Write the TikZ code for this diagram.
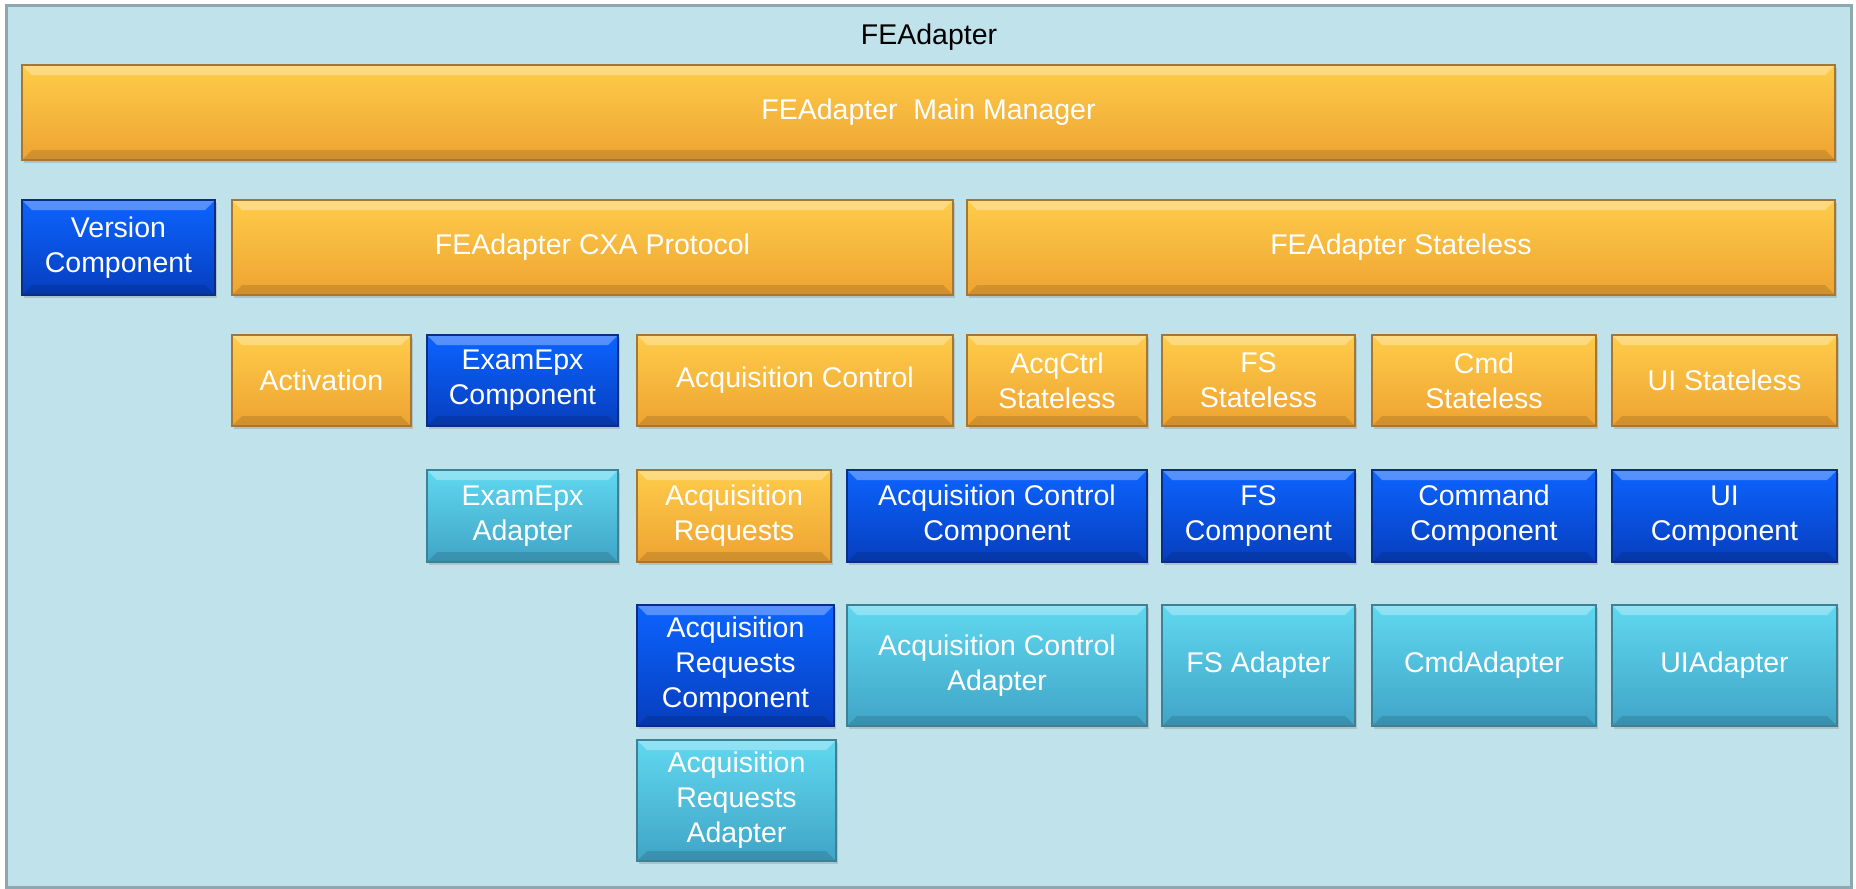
\documentclass[tikz,border=0pt]{standalone}
\usepackage{fontspec}
\setmainfont{Liberation Sans}
\usetikzlibrary{shadows}

\definecolor{panelbg}{RGB}{192,226,234}
\definecolor{panelrim}{RGB}{143,168,176}
\definecolor{orangetop}{RGB}{254,204,74}
\definecolor{orangebot}{RGB}{238,163,50}
\definecolor{orangerim}{RGB}{165,118,52}
\definecolor{bluetop}{RGB}{12,100,255}
\definecolor{bluebot}{RGB}{6,62,190}
\definecolor{bluerim}{RGB}{12,46,130}
\definecolor{cyantop}{RGB}{96,216,240}
\definecolor{cyanbot}{RGB}{64,164,198}
\definecolor{cyanrim}{RGB}{62,128,148}

\tikzset{
  blk/.style={rectangle, anchor=north west, inner sep=0pt, outer sep=0pt,
    align=center, text=white, font=\fontsize{28.5}{35}\selectfont, line width=1.2pt,
    drop shadow={shadow xshift=1.5pt, shadow yshift=-3pt, opacity=0.3},
    path picture={
      \fill[white, opacity=0.3] (path picture bounding box.north west) -- (path picture bounding box.north east)
        -- ([xshift=-10pt,yshift=-10pt]path picture bounding box.north east)
        -- ([xshift=10pt,yshift=-10pt]path picture bounding box.north west) -- cycle;
      \fill[black, opacity=0.12] (path picture bounding box.south west) -- (path picture bounding box.south east)
        -- ([xshift=-10pt,yshift=10pt]path picture bounding box.south east)
        -- ([xshift=10pt,yshift=10pt]path picture bounding box.south west) -- cycle;
    }},
  mgr/.style={blk, top color=orangetop, bottom color=orangebot, draw=orangerim},
  comp/.style={blk, top color=bluetop, bottom color=bluebot, draw=bluerim},
  adp/.style={blk, top color=cyantop, bottom color=cyanbot, draw=cyanrim},
  wh/.style 2 args={minimum width=#1pt, minimum height=#2pt}
}

\begin{document}
\begin{tikzpicture}[x=1pt,y=1pt,yscale=-1]
  \useasboundingbox (0,0) rectangle (1856,889);

  % outer panel
  \draw[panelrim, line width=3pt, fill=panelbg] (6,5) rectangle (1851,887);
  \node[font=\fontsize{28.5}{35}\selectfont] (title) at (929,37) {FEAdapter};

  % row 1
  \node[mgr, wh={1813}{95}] (main) at (22,65) {FEAdapter\ \ Main Manager};

  % row 2
  \node[comp, wh={193}{95}] (version) at (22,200) {Version\\Component};
  \node[mgr, wh={721}{95}] (cxa) at (232,200) {FEAdapter CXA Protocol};
  \node[mgr, wh={868}{95}] (stateless) at (967,200) {FEAdapter Stateless};

  % row 3
  \node[mgr, wh={179}{91}] (activation) at (232,335) {Activation};
  \node[comp, wh={191}{91}] (examcomp) at (427,335) {ExamEpx\\Component};
  \node[mgr, wh={316}{91}] (acqctrl) at (637,335) {Acquisition Control};
  \node[mgr, wh={180}{91}] (acqsl) at (967,335) {AcqCtrl\\Stateless};
  \node[mgr, wh={193}{91}] (fssl) at (1162,335) {FS\\Stateless};
  \node[mgr, wh={224}{91}] (cmdsl) at (1372,335) {Cmd\\Stateless};
  \node[mgr, wh={225}{91}] (uisl) at (1612,335) {UI Stateless};

  % row 4
  \node[adp, wh={191}{92}] (examadp) at (427,470) {ExamEpx\\Adapter};
  \node[mgr, wh={194}{92}] (acqreq) at (637,470) {Acquisition\\Requests};
  \node[comp, wh={300}{92}] (acqctrlcomp) at (847,470) {Acquisition Control\\Component};
  \node[comp, wh={193}{92}] (fscomp) at (1162,470) {FS\\Component};
  \node[comp, wh={224}{92}] (cmdcomp) at (1372,470) {Command\\Component};
  \node[comp, wh={225}{92}] (uicomp) at (1612,470) {UI\\Component};

  % row 5
  \node[comp, wh={197}{121}] (acqreqcomp) at (637,605) {Acquisition\\Requests\\Component};
  \node[adp, wh={300}{121}] (acqctrladp) at (847,605) {Acquisition Control\\Adapter};
  \node[adp, wh={193}{121}] (fsadp) at (1162,605) {FS Adapter};
  \node[adp, wh={224}{121}] (cmdadp) at (1372,605) {CmdAdapter};
  \node[adp, wh={225}{121}] (uiadp) at (1612,605) {UIAdapter};

  % row 6
  \node[adp, wh={199}{121}] (acqreqadp) at (637,740) {Acquisition\\Requests\\Adapter};
\end{tikzpicture}
\end{document}
